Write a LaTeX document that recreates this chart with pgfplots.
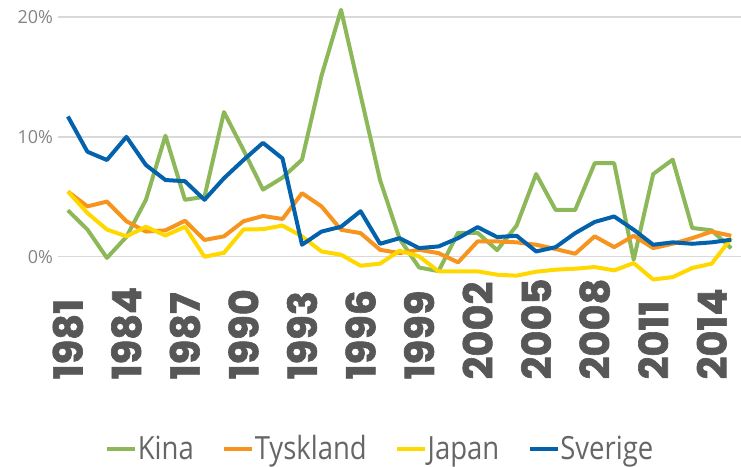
\documentclass[border=0pt]{standalone}
\usepackage{fontspec}
\setmainfont{Open Sans}
\newfontfamily\tickfont{Poppins}[BoldFeatures={FakeBold=1.6}]
\newfontfamily\legfont{Open Sans}[FakeStretch=0.86]
\usepackage{pgfplots}
\usepackage{pgfplotstable}
\pgfplotsset{compat=1.18}
\definecolor{kina}{HTML}{8DB85A}
\definecolor{tysk}{HTML}{F7941E}
\definecolor{japan}{HTML}{FFD800}
\definecolor{sverige}{HTML}{0461AC}
\definecolor{gridgray}{HTML}{D9D9D9}
\definecolor{tickgray}{HTML}{575757}
\definecolor{ylabgray}{HTML}{858585}
\definecolor{leggray}{HTML}{666666}

\pgfplotstableread{
year kina tysk japan sverige
1981 3.87 5.44 5.44 11.7
1982 2.27 4.2 3.65 8.76
1983 -0.1 4.6 2.27 8.07
1984 1.66 2.96 1.7 10.0
1985 4.75 2.1 2.5 7.65
1986 10.1 2.2 1.77 6.4
1987 4.75 3.0 2.5 6.3
1988 5.0 1.4 0.0 4.75
1989 12.07 1.7 0.33 6.55
1990 8.9 2.96 2.27 8.07
1991 5.6 3.4 2.3 9.5
1992 6.6 3.15 2.6 8.2
1993 8.1 5.3 1.7 1.0
1994 15.1 4.2 0.44 2.1
1995 20.6 2.25 0.17 2.5
1996 13.5 1.97 -0.75 3.8
1997 6.4 0.58 -0.58 1.08
1998 1.5 0.3 0.5 1.55
1999 -0.9 0.58 0.03 0.72
2000 -1.2 0.3 -1.22 0.86
2001 2.0 -0.47 -1.22 1.55
2002 2.0 1.28 -1.22 2.47
2003 0.55 1.28 -1.5 1.64
2004 2.6 1.2 -1.58 1.75
2005 6.9 1.0 -1.25 0.44
2006 3.9 0.64 -1.08 0.8
2007 3.9 0.25 -1.0 1.97
2008 7.8 1.7 -0.86 2.9
2009 7.8 0.8 -1.14 3.36
2010 -0.25 1.75 -0.53 2.25
2011 6.9 0.72 -1.9 1.0
2012 8.1 1.08 -1.7 1.2
2013 2.4 1.55 -0.94 1.08
2014 2.2 2.1 -0.58 1.2
2015 0.7 1.75 1.55 1.42
}\data

\begin{document}
\begin{tikzpicture}
\path[use as bounding box] (-58.2bp,-182.4bp) rectangle (683.6bp,284.6bp);
\begin{axis}[
  at={(0,0)}, anchor=south west,
  scale only axis, width=683.6bp, height=284.6bp,
  xmin=1980.5, xmax=2015.5, ymin=-2.3, ymax=21.42,
  xtick={1981,1984,1987,1990,1993,1996,1999,2002,2005,2008,2011,2014},
  xticklabels={1981,1984,1987,1990,1993,1996,1999,2002,2005,2008,2011,2014},
  ytick={0,10,20}, yticklabels={0\%,10\%,20\%},
  axis line style={draw=none}, major tick length=0pt,
  ymajorgrids, major grid style={draw=gridgray, line width=1.5bp},
  xticklabel style={rotate=90, anchor=east, text width=95bp, align=left, inner sep=0pt,
    font=\tickfont\bfseries\fontsize{40bp}{40bp}\selectfont, text=tickgray},
  yticklabel style={font=\fontsize{18bp}{18bp}\selectfont, text=ylabgray, inner sep=0pt, xshift=-5bp},
  no markers,
  every axis plot/.append style={line width=4bp, line join=round},
  legend columns=-1,
  legend image code/.code={\draw[#1, line width=4bp] (0bp,0bp) -- (28bp,0bp);},
  legend style={at={(0.4707,-0.5777)}, anchor=center, draw=none, fill=none,
    font=\legfont\fontsize{32bp}{32bp}\selectfont, text=leggray,
    nodes={inner sep=0.5bp},
    /tikz/every even column/.append style={column sep=28bp}},
]
\addplot[kina] table[x=year,y=kina]{\data};
\addplot[tysk] table[x=year,y=tysk]{\data};
\addplot[japan] table[x=year,y=japan]{\data};
\addplot[sverige] table[x=year,y=sverige]{\data};
\legend{Kina,Tyskland,Japan,Sverige}
\end{axis}
\end{tikzpicture}
\end{document}
